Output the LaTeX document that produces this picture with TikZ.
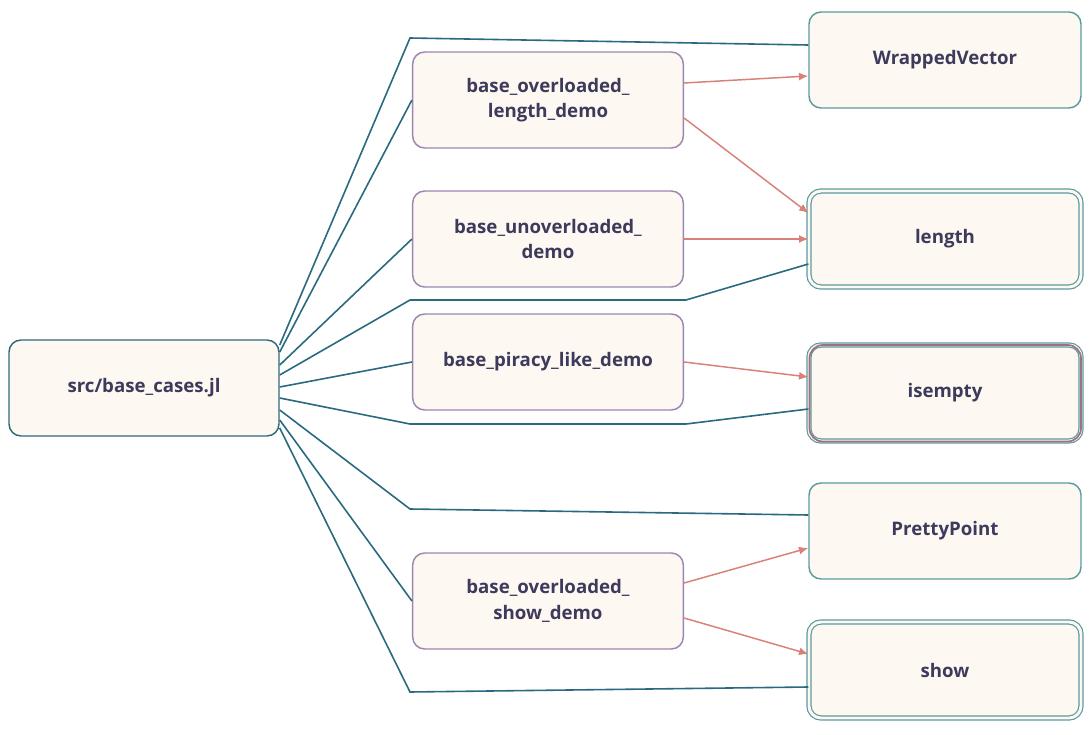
\documentclass[tikz,border=0pt]{standalone}
\usepackage{fontspec}
\setmainfont{Open Sans}
\usetikzlibrary{arrows.meta}
\definecolor{bg}{HTML}{FEF8F2}
\definecolor{tealb}{HTML}{5A9BA0}
\definecolor{srcb}{HTML}{2E6A7A}
\definecolor{purp}{HTML}{9D86B0}
\definecolor{edge}{HTML}{2A6A80}
\definecolor{redc}{HTML}{D98078}
\definecolor{txt}{HTML}{3D3A5C}
\definecolor{mauve}{HTML}{A07080}
\begin{document}
\begin{tikzpicture}[x=0.75pt,y=-0.75pt,
  box/.style={draw,fill=bg,rounded corners=9pt,minimum width=202.5pt,minimum height=72pt,line width=1.1pt,align=center,text=txt,font=\fontsize{14}{19}\selectfont\bfseries},
  src/.style={box,draw=srcb},
  fn/.style={box,draw=purp,minimum width=203pt},
  tg/.style={box,draw=tealb,minimum width=204pt},
  dbl/.style={tg,double=bg,double distance=2.2pt,line width=0.9pt},
  e/.style={draw=edge,line width=1.2pt},
  r/.style={draw=redc,line width=1.1pt,-{Latex[length=7pt,width=6pt]}}]
\useasboundingbox (0,0) rectangle (1090,735);
\node[src] (s) at (144,388) {src/base\_cases.jl};
\node[tg] (wv) at (945,60) {WrappedVector};
\node[dbl] (len) at (945,239) {length};
\node[dbl,draw=tealb] (ise) at (945,393) {isempty};
\draw[mauve,line width=1.3pt,rounded corners=10pt] (809.5,345) rectangle (1081,441.5);
\node[tg] (pp) at (945,531) {PrettyPoint};
\node[dbl] (sh) at (945,670) {show};
\node[fn] (a) at (548,100) {base\_overloaded\_\\length\_demo};
\node[fn] (b) at (548,239) {base\_unoverloaded\_\\demo};
\node[fn] (c) at (548,362) {base\_piracy\_like\_demo};
\node[fn] (d) at (548,601) {base\_overloaded\_\\show\_demo};
\coordinate (k1) at (410,38);
\coordinate (k2) at (410,300); \coordinate (k2b) at (686,300);
\coordinate (k3) at (410,424); \coordinate (k3b) at (686,424);
\coordinate (k4) at (410,509);
\coordinate (k5) at (410,692);
\draw[e] (s.east |- 0,345) -- (k1) -- (wv.west |- 0,45);
\draw[e] (s.east |- 0,352) -- (a.west);
\draw[e] (s.east |- 0,365) -- (b.west);
\draw[e] (s.east |- 0,375) -- (k2) -- (k2b) -- (len.west |- 0,264);
\draw[e] (s.east |- 0,387) -- (c.west);
\draw[e] (s.east |- 0,398) -- (k3) -- (k3b) -- (ise.west |- 0,409);
\draw[e] (s.east |- 0,410) -- (k4) -- (pp.west |- 0,515);
\draw[e] (s.east |- 0,420) -- (d.west);
\draw[e] (s.east |- 0,428) -- (k5) -- (sh.west |- 0,687);
\draw[r] (a.east |- 0,83) -- (wv.west |- 0,76);
\draw[r] (a.east |- 0,118) -- (len.west |- 0,213);
\draw[r] (b.east) -- (len.west);
\draw[r] (c.east) -- (ise.west |- 0,377);
\draw[r] (d.east |- 0,583) -- (pp.west |- 0,548);
\draw[r] (d.east |- 0,618) -- (sh.west |- 0,654);
\end{tikzpicture}
\end{document}
